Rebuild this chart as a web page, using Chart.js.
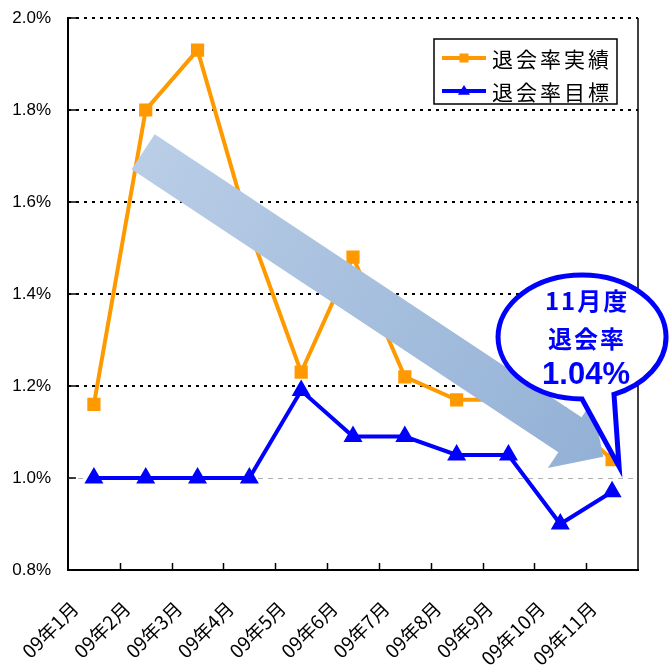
<!DOCTYPE html>
<html><head><meta charset="utf-8">
<script src="https://cdn.jsdelivr.net/npm/chart.js@4/dist/chart.umd.min.js"></script>
<style>html,body{margin:0;padding:0;background:#fff;}#wrap{width:670px;height:670px;position:relative;}</style>
</head><body><div id="wrap"><canvas id="c" width="670" height="670"></canvas></div>
<script>
const categories = ['09年1月','09年2月','09年3月','09年4月','09年5月','09年6月','09年7月','09年8月','09年9月','09年10月','09年11月'];
const actualRates = [1.16, 1.80, 1.93, 1.54, 1.23, 1.48, 1.22, 1.17, 1.17, 1.14, 1.04];
const targetRates = [1.00, 1.00, 1.00, 1.00, 1.19, 1.09, 1.09, 1.05, 1.05, 0.90, 0.97];
const yTicks = [0.8, 1.0, 1.2, 1.4, 1.6, 1.8, 2.0];
const seriesNames = ['退会率実績', '退会率目標'];
const calloutLines = ['11月度', '退会率', '1.04%'];

const ORANGE = '#FF9900', BLUE = '#0000FF';
const JP = '"Noto Sans CJK JP", "Noto Sans", sans-serif';

function drawMarker(ctx, style, x, y, r, color) {
  ctx.save();
  ctx.fillStyle = color;
  ctx.beginPath();
  if (style === 'rect') {
    ctx.rect(x - r, y - r, 2 * r, 2 * r);
  } else {
    ctx.moveTo(x, y - r * 1.1);
    ctx.lineTo(x + r * 1.1, y + r * 0.7);
    ctx.lineTo(x - r * 1.1, y + r * 0.7);
    ctx.closePath();
  }
  ctx.fill();
  ctx.restore();
}

const decor = {
  id: 'decor',
  beforeDatasetsDraw(chart) {
    const {ctx, chartArea: a, scales: {x: xs, y: ys}} = chart;
    ctx.save();
    yTicks.forEach(v => {
      if (v <= 0.8) return;
      const y = Math.round(ys.getPixelForValue(v));
      ctx.beginPath();
      if (Math.abs(v - 1.0) < 1e-9) {
        ctx.strokeStyle = '#b0b0b0'; ctx.lineWidth = 1; ctx.setLineDash([5, 5]);
        ctx.moveTo(a.left, y + 0.5); ctx.lineTo(a.right, y + 0.5);
      } else {
        ctx.strokeStyle = '#000'; ctx.lineWidth = 2; ctx.setLineDash([3, 5]);
        ctx.moveTo(a.left, y); ctx.lineTo(a.right, y);
      }
      ctx.stroke();
    });
    ctx.setLineDash([]);
    ctx.strokeStyle = '#000'; ctx.lineWidth = 1.5;
    ctx.beginPath(); ctx.moveTo(a.right, a.top); ctx.lineTo(a.right, a.bottom); ctx.stroke();
    yTicks.forEach(v => {
      const y = Math.round(ys.getPixelForValue(v));
      ctx.beginPath(); ctx.moveTo(a.left, y); ctx.lineTo(a.left + 8, y); ctx.stroke();
    });
    for (let i = 1; i < categories.length; i++) {
      const x = Math.round((xs.getPixelForValue(i - 1) + xs.getPixelForValue(i)) / 2) + 0.5;
      ctx.beginPath(); ctx.moveTo(x, a.bottom); ctx.lineTo(x, a.bottom - 7); ctx.stroke();
    }
    ctx.restore();
  },
  afterDatasetsDraw(chart) {
    const {ctx, scales: {x: xs, y: ys}} = chart;
    ctx.save();
    // big trend arrow
    const sx = xs.getPixelForValue(0.95), sy = ys.getPixelForValue(1.709);
    const tx = xs.getPixelForValue(9.83), ty = ys.getPixelForValue(1.046);
    const L = Math.hypot(tx - sx, ty - sy);
    const ux = (tx - sx) / L, uy = (ty - sy) / L;
    const px = -uy, py = ux;
    const sw = 21, hw = 40, hl = 40;
    const bx = tx - ux * hl, by = ty - uy * hl;
    const grad = ctx.createLinearGradient(sx, sy, tx, ty);
    grad.addColorStop(0, '#b9cde6');
    grad.addColorStop(1, '#93b1d6');
    ctx.fillStyle = grad;
    ctx.beginPath();
    ctx.moveTo(sx + px * sw, sy + py * sw);
    ctx.lineTo(bx + px * sw, by + py * sw);
    ctx.lineTo(bx + px * hw, by + py * hw);
    ctx.lineTo(tx, ty);
    ctx.lineTo(bx - px * hw, by - py * hw);
    ctx.lineTo(bx - px * sw, by - py * sw);
    ctx.lineTo(sx - px * sw, sy - py * sw);
    ctx.closePath();
    ctx.fill();

    // legend
    const lx = 434, ly = 39, lw = 183, lh = 65;
    ctx.fillStyle = '#fff';
    ctx.fillRect(lx, ly, lw, lh);
    ctx.strokeStyle = '#000'; ctx.lineWidth = 1.5;
    ctx.strokeRect(lx, ly, lw, lh);
    const rows = [
      {y: 58, c: ORANGE, s: 'rect', t: seriesNames[0]},
      {y: 91, c: BLUE, s: 'triangle', t: seriesNames[1]}
    ];
    rows.forEach(r => {
      ctx.strokeStyle = r.c; ctx.lineWidth = 4;
      ctx.beginPath(); ctx.moveTo(442, r.y); ctx.lineTo(486, r.y); ctx.stroke();
      drawMarker(ctx, r.s, 464, r.y, r.s === 'rect' ? 4.5 : 5.5, r.c);
      ctx.fillStyle = '#000';
      ctx.font = '21px ' + JP;
      ctx.textAlign = 'left'; ctx.textBaseline = 'middle';
      ctx.letterSpacing = '3px';
      ctx.fillText(r.t, 492, r.y + 1);
      ctx.letterSpacing = '0px';
    });

    // callout bubble
    const cx = xs.getPixelForValue(9.42), cy = ys.getPixelForValue(1.3065);
    const rx = 84, ry = 62;
    const tipX = xs.getPixelForValue(10) + 7, tipY = ys.getPixelForValue(actualRates[10]) + 7;
    const a0 = Math.atan2(63 / ry, 0 / rx);
    const a1 = Math.atan2(61 / ry, 34 / rx) + Math.PI * 2;
    ctx.beginPath();
    ctx.ellipse(cx, cy, rx, ry, 0, a0, a1, false);
    ctx.lineTo(tipX, tipY);
    ctx.closePath();
    ctx.fillStyle = '#fff';
    ctx.fill();
    ctx.strokeStyle = BLUE; ctx.lineWidth = 5; ctx.lineJoin = 'miter';
    ctx.stroke();
    ctx.fillStyle = BLUE;
    ctx.textAlign = 'center'; ctx.textBaseline = 'middle';
    ctx.font = 'bold 24px ' + JP;
    ctx.letterSpacing = '2px';
    ctx.fillText(calloutLines[0], cx + 5, cy - 36);
    ctx.fillText(calloutLines[1], cx + 5, cy + 2);
    ctx.letterSpacing = '0px';
    ctx.font = 'bold 31px "Liberation Sans", Arial, sans-serif';
    ctx.fillText(calloutLines[2], cx + 4, cy + 38);
    ctx.restore();
  }
};

new Chart(document.getElementById('c'), {
  type: 'line',
  data: {
    labels: categories,
    datasets: [
      {label: seriesNames[1], data: targetRates, borderColor: BLUE, backgroundColor: BLUE,
       borderWidth: 4, pointStyle: 'triangle', pointRadius: 7, pointHoverRadius: 7, tension: 0},
      {label: seriesNames[0], data: actualRates, borderColor: ORANGE, backgroundColor: ORANGE,
       borderWidth: 4, pointStyle: 'rect', pointRadius: 6.5, pointHoverRadius: 6.5, tension: 0}
    ]
  },
  options: {
    responsive: false,
    animation: false,
    events: [],
    layout: {padding: {top: 18, right: 32, bottom: 0, left: 0}},
    plugins: {legend: {display: false}, tooltip: {enabled: false}},
    scales: {
      x: {
        offset: true,
        grid: {display: false, drawTicks: false},
        border: {display: true, color: '#000', width: 2},
        ticks: {maxRotation: 45, minRotation: 45, autoSkip: false, padding: 27, labelOffset: -19,
                color: '#000', font: {size: 19, family: JP}},
        afterFit(s) { s.height = 100; s.paddingLeft = 0; s.paddingRight = 0; s.paddingTop = 0; s.paddingBottom = 0; }
      },
      y: {
        min: 0.8, max: 2.0,
        afterBuildTicks(s) { s.ticks = yTicks.map(v => ({value: v})); },
        grid: {display: false, drawTicks: false},
        border: {display: true, color: '#000', width: 2},
        ticks: {padding: 17, color: '#000', font: {size: 17, family: '"Liberation Sans", Arial, sans-serif'},
                callback: v => Number(v).toFixed(1) + '%'},
        afterFit(s) { s.width = 68; s.paddingTop = 0; s.paddingBottom = 0; s.paddingLeft = 0; s.paddingRight = 0; }
      }
    }
  },
  plugins: [decor]
});
</script>
</body></html>
